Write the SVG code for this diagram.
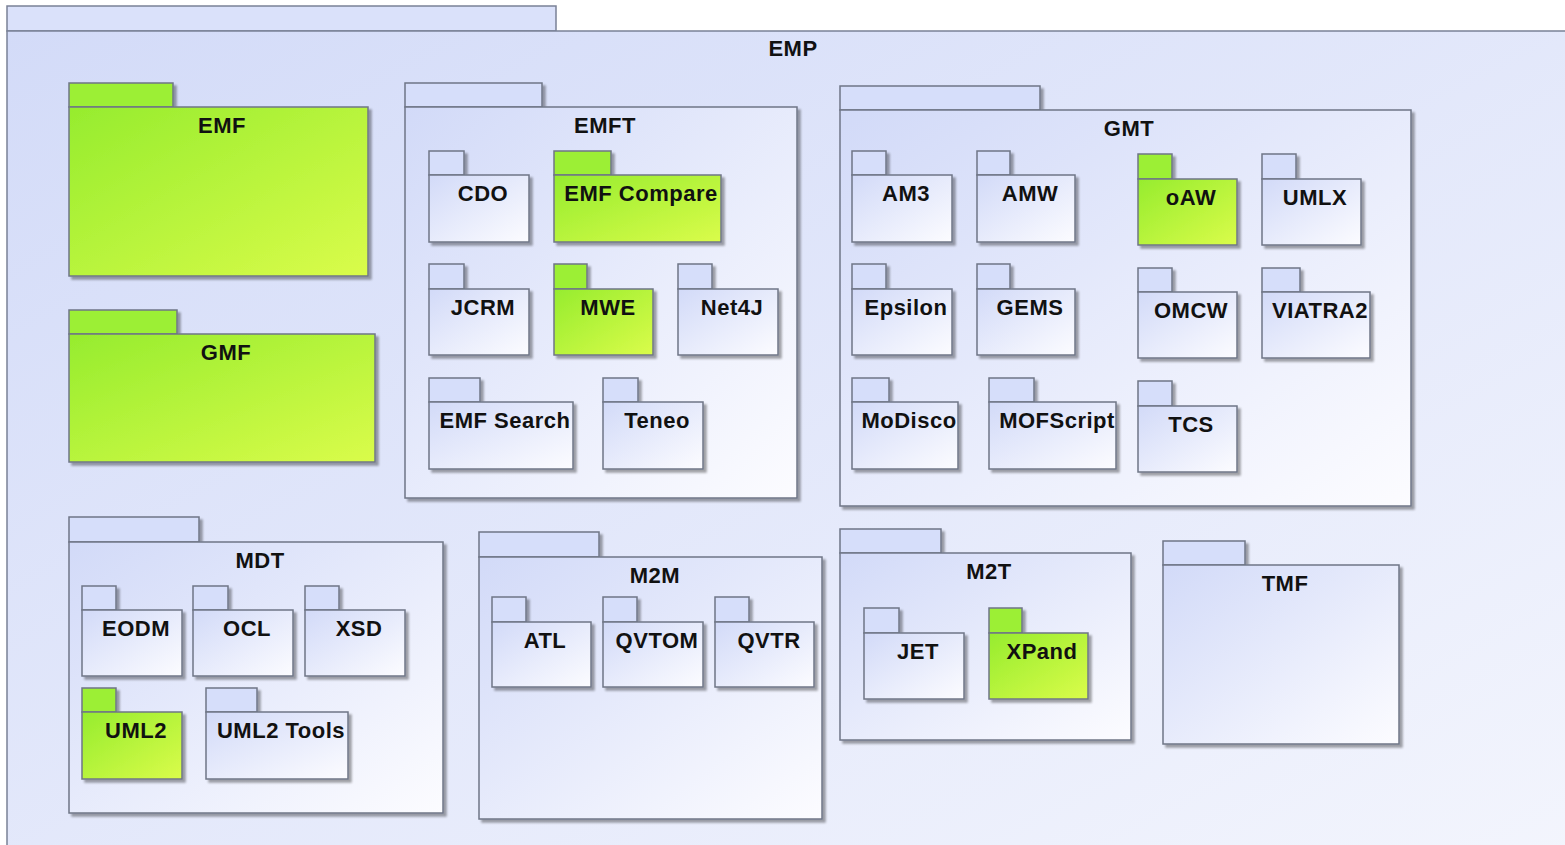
<svg xmlns="http://www.w3.org/2000/svg" width="1565" height="845" viewBox="0 0 1565 845">
<defs>
<linearGradient id="gBg" x1="0" y1="0" x2="1" y2="1"><stop offset="0" stop-color="#d3dbf8"/><stop offset="1" stop-color="#f3f5fd"/></linearGradient>
<linearGradient id="gBlue" x1="0" y1="0" x2="1" y2="1"><stop offset="0" stop-color="#d2daf8"/><stop offset="1" stop-color="#fcfcff"/></linearGradient>
<linearGradient id="gGreen" x1="0" y1="0" x2="1" y2="1"><stop offset="0" stop-color="#96ec2e"/><stop offset="1" stop-color="#dafc4a"/></linearGradient>
<filter id="sh" x="-5%" y="-5%" width="115%" height="115%"><feDropShadow dx="3" dy="3" stdDeviation="1.3" flood-color="#000" flood-opacity="0.35"/></filter>
</defs>
<style>
.pb{fill:url(#gBlue);stroke:#6f7686;stroke-width:1.5}
.pt{fill:#d6defa;stroke:#6f7686;stroke-width:1.5}
.gb{fill:url(#gGreen);stroke:#6f7686;stroke-width:1.5}
.gt{fill:#9cef34;stroke:#6f7686;stroke-width:1.5}
.lbl{font-family:"Liberation Sans",Arial,sans-serif;font-weight:bold;font-size:22px;fill:#111;text-anchor:middle;letter-spacing:0.5px}
</style>
<rect x="0" y="0" width="1565" height="845" fill="#ffffff"/>
<g id="EMP">
<rect x="7" y="6" width="549" height="25" fill="#dae1fa" stroke="#7a8196" stroke-width="1.5"/>
<rect x="7" y="31" width="1580" height="830" fill="url(#gBg)" stroke="#7a8196" stroke-width="1.5"/>
<text class="lbl" x="793" y="56">EMP</text>
</g>
<g id="EMF"><g filter="url(#sh)"><rect class="gt" x="69" y="83" width="104" height="24"/><rect class="gb" x="69" y="107" width="299" height="169"/></g><text class="lbl" x="222" y="133">EMF</text></g>
<g id="GMF"><g filter="url(#sh)"><rect class="gt" x="69" y="310" width="108" height="24"/><rect class="gb" x="69" y="334" width="306" height="128"/></g><text class="lbl" x="226" y="360">GMF</text></g>
<g id="EMFT"><g filter="url(#sh)"><rect class="pt" x="405" y="83" width="137" height="24"/><rect class="pb" x="405" y="107" width="392" height="391"/></g><text class="lbl" x="605" y="133">EMFT</text>
<g id="CDO"><g filter="url(#sh)"><rect class="pt" x="429" y="151" width="35" height="24"/><rect class="pb" x="429" y="175" width="100" height="67"/></g><text class="lbl" x="483" y="201">CDO</text></g>
<g id="EMF_Compare"><g filter="url(#sh)"><rect class="gt" x="554" y="151" width="57" height="24"/><rect class="gb" x="554" y="175" width="167" height="67"/></g><text class="lbl" x="641" y="201">EMF Compare</text></g>
<g id="JCRM"><g filter="url(#sh)"><rect class="pt" x="429" y="264" width="35" height="25"/><rect class="pb" x="429" y="289" width="100" height="66"/></g><text class="lbl" x="483" y="315">JCRM</text></g>
<g id="MWE"><g filter="url(#sh)"><rect class="gt" x="554" y="264" width="33" height="25"/><rect class="gb" x="554" y="289" width="99" height="66"/></g><text class="lbl" x="608" y="315">MWE</text></g>
<g id="Net4J"><g filter="url(#sh)"><rect class="pt" x="678" y="264" width="34" height="25"/><rect class="pb" x="678" y="289" width="100" height="66"/></g><text class="lbl" x="732" y="315">Net4J</text></g>
<g id="EMF_Search"><g filter="url(#sh)"><rect class="pt" x="429" y="378" width="51" height="24"/><rect class="pb" x="429" y="402" width="144" height="67"/></g><text class="lbl" x="505" y="428">EMF Search</text></g>
<g id="Teneo"><g filter="url(#sh)"><rect class="pt" x="603" y="378" width="35" height="24"/><rect class="pb" x="603" y="402" width="100" height="67"/></g><text class="lbl" x="657" y="428">Teneo</text></g>
</g>
<g id="GMT"><g filter="url(#sh)"><rect class="pt" x="840" y="86" width="200" height="24"/><rect class="pb" x="840" y="110" width="571" height="396"/></g><text class="lbl" x="1129" y="136">GMT</text>
<g id="AM3"><g filter="url(#sh)"><rect class="pt" x="852" y="151" width="34" height="24"/><rect class="pb" x="852" y="175" width="100" height="67"/></g><text class="lbl" x="906" y="201">AM3</text></g>
<g id="AMW"><g filter="url(#sh)"><rect class="pt" x="977" y="151" width="33" height="24"/><rect class="pb" x="977" y="175" width="98" height="67"/></g><text class="lbl" x="1030" y="201">AMW</text></g>
<g id="oAW"><g filter="url(#sh)"><rect class="gt" x="1138" y="154" width="34" height="25"/><rect class="gb" x="1138" y="179" width="99" height="66"/></g><text class="lbl" x="1191" y="205">oAW</text></g>
<g id="UMLX"><g filter="url(#sh)"><rect class="pt" x="1262" y="154" width="34" height="25"/><rect class="pb" x="1262" y="179" width="99" height="66"/></g><text class="lbl" x="1315" y="205">UMLX</text></g>
<g id="Epsilon"><g filter="url(#sh)"><rect class="pt" x="852" y="264" width="34" height="25"/><rect class="pb" x="852" y="289" width="100" height="66"/></g><text class="lbl" x="906" y="315">Epsilon</text></g>
<g id="GEMS"><g filter="url(#sh)"><rect class="pt" x="977" y="264" width="33" height="25"/><rect class="pb" x="977" y="289" width="98" height="66"/></g><text class="lbl" x="1030" y="315">GEMS</text></g>
<g id="OMCW"><g filter="url(#sh)"><rect class="pt" x="1138" y="268" width="34" height="24"/><rect class="pb" x="1138" y="292" width="99" height="66"/></g><text class="lbl" x="1191" y="318">OMCW</text></g>
<g id="VIATRA2"><g filter="url(#sh)"><rect class="pt" x="1262" y="268" width="38" height="24"/><rect class="pb" x="1262" y="292" width="108" height="66"/></g><text class="lbl" x="1320" y="318">VIATRA2</text></g>
<g id="MoDisco"><g filter="url(#sh)"><rect class="pt" x="852" y="378" width="37" height="24"/><rect class="pb" x="852" y="402" width="106" height="67"/></g><text class="lbl" x="909" y="428">MoDisco</text></g>
<g id="MOFScript"><g filter="url(#sh)"><rect class="pt" x="989" y="378" width="45" height="24"/><rect class="pb" x="989" y="402" width="127" height="67"/></g><text class="lbl" x="1057" y="428">MOFScript</text></g>
<g id="TCS"><g filter="url(#sh)"><rect class="pt" x="1138" y="381" width="34" height="25"/><rect class="pb" x="1138" y="406" width="99" height="66"/></g><text class="lbl" x="1191" y="432">TCS</text></g>
</g>
<g id="MDT"><g filter="url(#sh)"><rect class="pt" x="69" y="517" width="130" height="25"/><rect class="pb" x="69" y="542" width="374" height="271"/></g><text class="lbl" x="260" y="568">MDT</text>
<g id="EODM"><g filter="url(#sh)"><rect class="pt" x="82" y="586" width="34" height="24"/><rect class="pb" x="82" y="610" width="100" height="66"/></g><text class="lbl" x="136" y="636">EODM</text></g>
<g id="OCL"><g filter="url(#sh)"><rect class="pt" x="193" y="586" width="35" height="24"/><rect class="pb" x="193" y="610" width="100" height="66"/></g><text class="lbl" x="247" y="636">OCL</text></g>
<g id="XSD"><g filter="url(#sh)"><rect class="pt" x="305" y="586" width="34" height="24"/><rect class="pb" x="305" y="610" width="100" height="66"/></g><text class="lbl" x="359" y="636">XSD</text></g>
<g id="UML2"><g filter="url(#sh)"><rect class="gt" x="82" y="688" width="34" height="24"/><rect class="gb" x="82" y="712" width="100" height="67"/></g><text class="lbl" x="136" y="738">UML2</text></g>
<g id="UML2_Tools"><g filter="url(#sh)"><rect class="pt" x="206" y="688" width="51" height="24"/><rect class="pb" x="206" y="712" width="142" height="67"/></g><text class="lbl" x="281" y="738">UML2 Tools</text></g>
</g>
<g id="M2M"><g filter="url(#sh)"><rect class="pt" x="479" y="532" width="120" height="25"/><rect class="pb" x="479" y="557" width="343" height="262"/></g><text class="lbl" x="655" y="583">M2M</text>
<g id="ATL"><g filter="url(#sh)"><rect class="pt" x="492" y="597" width="34" height="25"/><rect class="pb" x="492" y="622" width="99" height="65"/></g><text class="lbl" x="545" y="648">ATL</text></g>
<g id="QVTOM"><g filter="url(#sh)"><rect class="pt" x="603" y="597" width="34" height="25"/><rect class="pb" x="603" y="622" width="100" height="65"/></g><text class="lbl" x="657" y="648">QVTOM</text></g>
<g id="QVTR"><g filter="url(#sh)"><rect class="pt" x="715" y="597" width="34" height="25"/><rect class="pb" x="715" y="622" width="99" height="65"/></g><text class="lbl" x="769" y="648">QVTR</text></g>
</g>
<g id="M2T"><g filter="url(#sh)"><rect class="pt" x="840" y="529" width="101" height="24"/><rect class="pb" x="840" y="553" width="291" height="187"/></g><text class="lbl" x="989" y="579">M2T</text>
<g id="JET"><g filter="url(#sh)"><rect class="pt" x="864" y="608" width="35" height="25"/><rect class="pb" x="864" y="633" width="100" height="66"/></g><text class="lbl" x="918" y="659">JET</text></g>
<g id="XPand"><g filter="url(#sh)"><rect class="gt" x="989" y="608" width="33" height="25"/><rect class="gb" x="989" y="633" width="99" height="66"/></g><text class="lbl" x="1042" y="659">XPand</text></g>
</g>
<g id="TMF"><g filter="url(#sh)"><rect class="pt" x="1163" y="541" width="82" height="24"/><rect class="pb" x="1163" y="565" width="236" height="179"/></g><text class="lbl" x="1285" y="591">TMF</text></g>
<g id="connectors"/>
</svg>
